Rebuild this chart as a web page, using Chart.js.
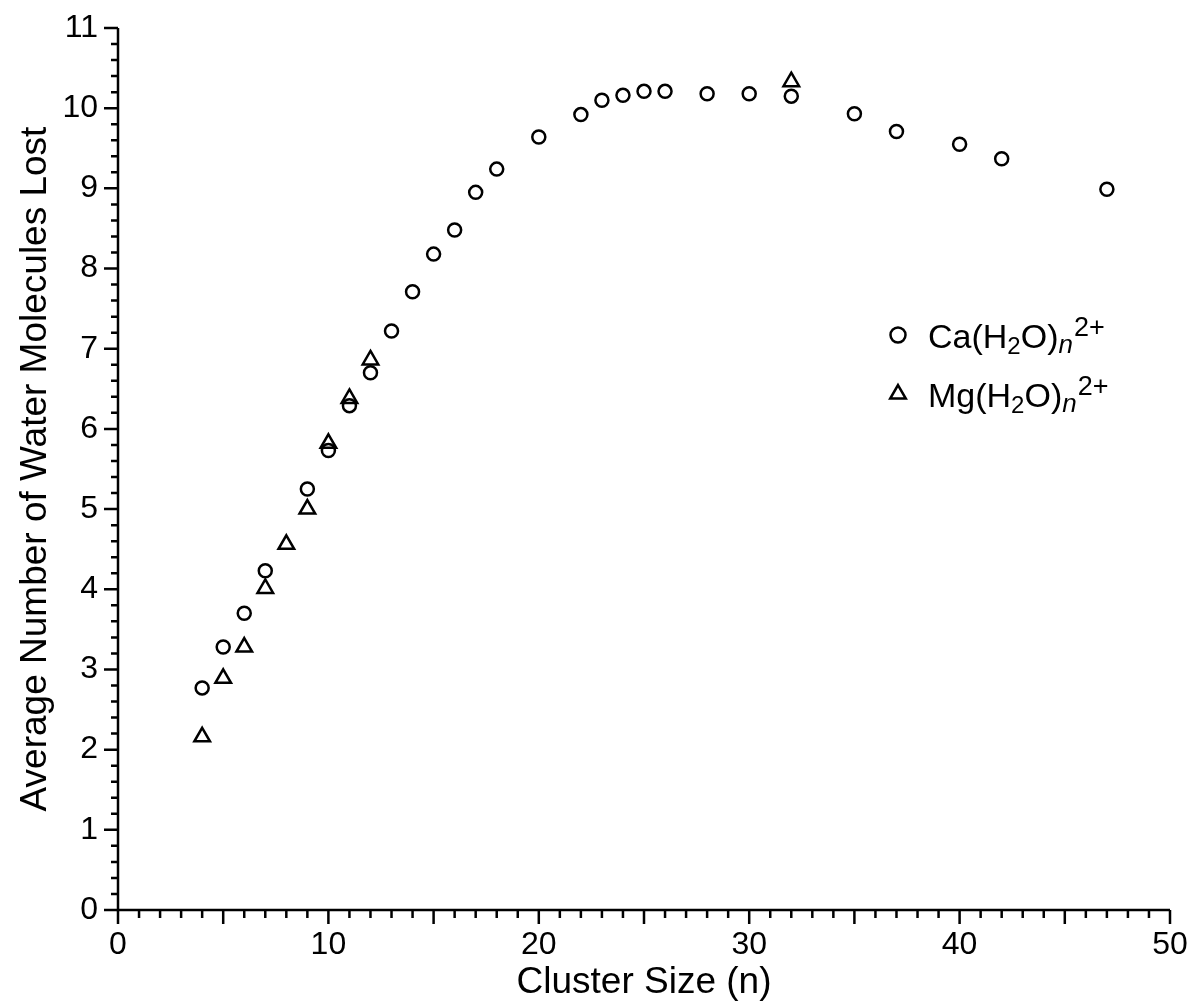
<!DOCTYPE html>
<html>
<head>
<meta charset="utf-8">
<script src="https://cdn.jsdelivr.net/npm/chart.js@4.4.1/dist/chart.umd.min.js"></script>
<style>
    html, body { margin: 0; padding: 0; background: #fff; }
    #wrap { width: 1196px; height: 1007px; position: relative; }
</style>
</head>
<body>
<div id="wrap"><canvas id="clusterChart"></canvas></div>
<script>
// cluster sizes and average water loss
const caSizes = [4, 5, 6, 7, 9, 10, 11, 12, 13, 14, 15, 16, 17, 18, 20, 22, 23, 24, 25, 26, 28, 30, 32, 35, 37, 40, 42, 47];
const caLost = [2.77, 3.28, 3.70, 4.23, 5.25, 5.73, 6.29, 6.70, 7.22, 7.71, 8.18, 8.48, 8.95, 9.24, 9.64, 9.92, 10.10, 10.16, 10.21, 10.21, 10.18, 10.18, 10.15, 9.93, 9.71, 9.55, 9.37, 8.99];
const mgSizes = [4, 5, 6, 7, 8, 9, 10, 11, 12, 32];
const mgLost = [2.16, 2.89, 3.28, 4.01, 4.56, 5.00, 5.82, 6.38, 6.86, 10.33];

const xTicks = [0, 10, 20, 30, 40, 50];
const yTicks = [0, 1, 2, 3, 4, 5, 6, 7, 8, 9, 10, 11];

const FONT = "'Liberation Sans', Arial, Helvetica, sans-serif";

function toPoints(xs, ys) {
    return xs.map(function(x, i) { return {x: x, y: ys[i]}; });
}

// axis lines with major / minor tick marks
const axesPlugin = {
    id: 'axesPlugin',
    afterDraw: function(chart) {
        const ctx = chart.ctx;
        const xs = chart.scales.x;
        const ys = chart.scales.y;
        const area = chart.chartArea;
        ctx.save();
        ctx.strokeStyle = '#000';
        ctx.lineWidth = 2.5;
        ctx.lineCap = 'butt';
        ctx.beginPath();
        ctx.moveTo(area.left, area.top);
        ctx.lineTo(area.left, area.bottom);
        ctx.lineTo(area.right, area.bottom);
        ctx.stroke();

        ctx.beginPath();
        for (let v = xTicks[0]; v <= xTicks[xTicks.length - 1]; v++) {
            const px = xs.getPixelForValue(v);
            const len = (v % 5 === 0) ? 14 : 8;
            ctx.moveTo(px, area.bottom);
            ctx.lineTo(px, area.bottom + len);
        }
        for (let i = 0; i <= (yTicks[yTicks.length - 1] - yTicks[0]) * 5; i++) {
            const v = yTicks[0] + i / 5;
            const py = ys.getPixelForValue(v);
            const len = (i % 5 === 0) ? 14 : 7;
            ctx.moveTo(area.left, py);
            ctx.lineTo(area.left - len, py);
        }
        ctx.stroke();
        ctx.restore();
    }
};

// legend with chemical formula (subscripts / superscripts)
const legendPlugin = {
    id: 'formulaLegend',
    afterDraw: function(chart) {
        const ctx = chart.ctx;
        const rows = [
            {metal: 'Ca', style: 'circle', y: 348},
            {metal: 'Mg', style: 'triangle', y: 407}
        ];
        ctx.save();
        ctx.textBaseline = 'alphabetic';
        ctx.textAlign = 'left';
        rows.forEach(function(row, idx) {
            ctx.strokeStyle = '#000';
            ctx.fillStyle = 'rgba(0,0,0,0)';
            ctx.lineWidth = 2.5;
            Chart.helpers.drawPoint(ctx, {
                pointStyle: row.style,
                radius: idx === 0 ? 7.5 : 9,
                borderWidth: 2.5
            }, 898, row.y - 13);

            ctx.fillStyle = '#000';
            let x = 928;
            const parts = [
                {t: row.metal + '(H', f: '34px ' + FONT, dy: 0},
                {t: '2', f: '24px ' + FONT, dy: 6},
                {t: 'O)', f: '34px ' + FONT, dy: 0},
                {t: 'n', f: 'italic 26px ' + FONT, dy: 5},
                {t: '2+', f: '27px ' + FONT, dy: -12}
            ];
            parts.forEach(function(p) {
                ctx.font = p.f;
                ctx.fillText(p.t, x, row.y + p.dy);
                x += ctx.measureText(p.t).width + (p.t === 'n' ? 1 : 0);
            });
        });
        ctx.restore();
    }
};

const ctxCluster = document.getElementById('clusterChart');

new Chart(ctxCluster, {
    type: 'scatter',
    data: {
        datasets: [{
            label: 'Ca(H2O)n2+',
            data: toPoints(caSizes, caLost),
            pointStyle: 'circle',
            pointRadius: 6.5,
            pointBorderWidth: 2.5,
            borderColor: '#000',
            backgroundColor: 'rgba(0,0,0,0)',
            pointHoverRadius: 6.5
        }, {
            label: 'Mg(H2O)n2+',
            data: toPoints(mgSizes, mgLost),
            pointStyle: 'triangle',
            pointRadius: 9,
            pointBorderWidth: 2.5,
            borderColor: '#000',
            backgroundColor: 'rgba(0,0,0,0)',
            pointHoverRadius: 9
        }]
    },
    options: {
        responsive: true,
        maintainAspectRatio: false,
        animation: false,
        layout: {
            padding: {top: 28, right: 26, left: 0, bottom: 0}
        },
        plugins: {
            legend: {display: false},
            tooltip: {enabled: false}
        },
        scales: {
            x: {
                type: 'linear',
                min: xTicks[0],
                max: xTicks[xTicks.length - 1],
                afterBuildTicks: function(scale) {
                    scale.ticks = xTicks.map(function(v) { return {value: v}; });
                },
                afterFit: function(scale) {
                    scale.height = 97;
                    scale.paddingLeft = 0;
                    scale.paddingRight = 0;
                },
                grid: {display: false, drawTicks: false},
                border: {display: false},
                ticks: {
                    color: '#000',
                    padding: 16,
                    maxRotation: 0,
                    font: {family: FONT, size: 32}
                },
                title: {
                    display: true,
                    text: 'Cluster Size (n)',
                    color: '#000',
                    padding: {top: 0, bottom: 2},
                    font: {family: FONT, size: 37}
                }
            },
            y: {
                type: 'linear',
                min: yTicks[0],
                max: yTicks[yTicks.length - 1],
                afterBuildTicks: function(scale) {
                    scale.ticks = yTicks.map(function(v) { return {value: v}; });
                },
                afterFit: function(scale) {
                    scale.width = 118;
                    scale.paddingTop = 0;
                    scale.paddingBottom = 0;
                },
                grid: {display: false, drawTicks: false},
                border: {display: false},
                ticks: {
                    color: '#000',
                    padding: 20,
                    font: {family: FONT, size: 32}
                },
                title: {
                    display: true,
                    text: 'Average Number of Water Molecules Lost',
                    color: '#000',
                    padding: {top: 14, bottom: 0},
                    font: {family: FONT, size: 37}
                }
            }
        }
    },
    plugins: [axesPlugin, legendPlugin]
});
</script>
</body>
</html>
